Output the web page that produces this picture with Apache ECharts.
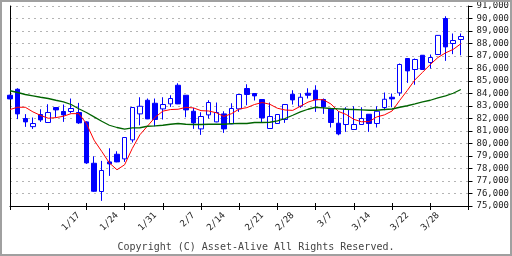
<!DOCTYPE html>
<html>
<head>
<meta charset="utf-8">
<script src="https://cdn.jsdelivr.net/npm/echarts@6/dist/echarts.min.js"></script>
<style>
  html, body { margin: 0; padding: 0; background: #fff; }
  #chart { width: 512px; height: 256px; }
</style>
</head>
<body>
<div id="chart"></div>
<script>
// Trading days (last slot is an empty spacer at the right edge)
const dates = ['12/30','1/4','1/5','1/6','1/7','1/11','1/12','1/13','1/14','1/17','1/18','1/19','1/20','1/21','1/24','1/25','1/26','1/27','1/28','1/31',
  '2/1','2/2','2/3','2/4','2/7','2/8','2/9','2/10','2/14','2/15','2/16','2/17','2/18','2/21','2/22','2/24','2/25','2/28',
  '3/1','3/2','3/3','3/4','3/7','3/8','3/9','3/10','3/11','3/14','3/15','3/16','3/17','3/18','3/22','3/23','3/24','3/25','3/28','3/29','3/30','3/31','4/1'];
const tickLabels = ['1/17','1/24','1/31','2/7','2/14','2/21','2/28','3/7','3/14','3/22','3/28'];

const openP  = [83860,84340,82000,81350,82320,81680,82880,82560,82560,82480,81730,78420,76160,78530,79140,78770,80290,82370,83460,83220,
  82770,83170,84660,83860,82580,81170,82290,81730,82370,81570,82770,84400,84000,83520,81200,81600,81920,83940,82980,84020,
  84260,83520,82800,81620,81520,81120,81520,82340,81600,82880,83700,84050,86800,85920,87060,86480,87120,90000,88000,88320];
const closeP = [83570,82370,81730,81600,81890,82480,82690,82290,82800,81650,78450,76180,77840,78370,78530,80480,82880,82980,81970,81920,
  83120,83600,83170,82690,81650,82160,83280,82480,81170,82800,83920,83920,83810,82050,82160,82320,83120,83490,83700,83860,
  83490,82930,81680,80770,82740,81520,82000,81600,82580,83540,83570,86320,85810,86720,85920,86880,88650,87730,88240,88560];
const lowP   = [83550,81950,81330,81170,81730,81650,82080,81730,82420,81570,78370,76130,75410,77410,78500,78530,80080,81460,81950,81380,
  81920,82930,83150,82100,81170,80690,82000,81700,80850,81550,82530,83060,83440,81680,81180,81580,81650,83120,82850,83600,
  82530,82370,81280,80660,80930,81100,81500,80930,81280,82660,82900,83810,84850,84700,85900,86000,87100,86610,87150,87060];
const highP  = [83900,84420,82350,82080,82740,83140,82900,83120,83600,83250,81780,78980,78610,79620,79380,80500,82900,83700,83600,83600,
  83700,83860,84820,83880,82850,82500,83460,83280,82580,83220,83950,84740,84020,83540,83280,82340,83130,84260,84020,84420,
  84660,83600,82810,82560,82900,82980,82900,82360,82980,84080,84000,86400,86820,86800,87080,87120,88670,90180,88800,88800];
const ma5  = [82720,82900,82900,82530,82250,82020,82070,82180,82390,82390,81600,80270,79370,78450,77900,78300,79600,80700,81400,82100,
  82590,82716,82740,82890,82850,82630,82600,82460,82160,82390,82760,82870,83120,83280,83140,82820,82680,82650,82980,83310,
  83510,83500,83160,82560,82320,81930,81740,81750,82130,82290,82600,83450,84250,85100,85700,86320,86880,87250,87530,87980];
const ma25 = [84220,84080,83920,83810,83700,83600,83460,83330,83120,82780,82480,82130,81780,81460,81280,81150,81250,81260,81380,81410,
  81460,81540,81600,81540,81520,81520,81540,81540,81540,81590,81600,81600,81680,81680,81700,81810,82000,82260,82530,82740,
  82900,82850,82800,82770,82740,82720,82690,82660,82660,82720,82760,82900,83020,83170,83330,83460,83650,83810,84020,84320];

const yMin = 75000, yMax = 91000, yStep = 1000;
const FONT = 'DejaVu Sans Mono';

const kData = openP.map((o, i) => [o, closeP[i], lowP[i], highP[i]]);

const chart = echarts.init(document.getElementById('chart'), null, { renderer: 'canvas' });
chart.setOption({
  animation: false,
  backgroundColor: '#fff',
  grid: { left: 10, width: 465, top: 6, height: 200, containLabel: false },
  xAxis: [{
    type: 'category', data: dates, boundaryGap: false, position: 'bottom',
    axisLine: { show: true, lineStyle: { color: '#000', width: 1 } },
    axisTick: { show: true, inside: false, length: 4, lineStyle: { color: '#000' },
      interval: function (idx) { return idx % 5 === 0; } },
    axisLabel: { show: true, rotate: 45, margin: 8, fontFamily: FONT, fontSize: 9, color: '#222',
      interval: function (idx, val) { return tickLabels.indexOf(val) >= 0; } },
    splitLine: { show: false }
  }, {
    type: 'category', data: dates, boundaryGap: false, position: 'bottom',
    axisLine: { show: false },
    axisTick: { show: true, inside: true, length: 3, lineStyle: { color: '#000' },
      interval: function (idx) { return idx % 5 === 0; } },
    axisLabel: { show: false }, splitLine: { show: false }
  }],
  yAxis: [{
    type: 'value', position: 'right', min: yMin, max: yMax, interval: yStep, scale: true,
    axisLine: { show: true, lineStyle: { color: '#000', width: 1 } },
    axisTick: { show: true, inside: false, length: 4, lineStyle: { color: '#000' } },
    axisLabel: { show: true, margin: 8, fontFamily: FONT, fontSize: 9, color: '#222' },
    splitLine: { show: true, lineStyle: { color: '#b4b4b4', type: [2, 4], width: 1 } }
  }, {
    type: 'value', position: 'left', min: yMin, max: yMax, interval: yStep,
    axisLine: { show: true, lineStyle: { color: '#000', width: 1 } },
    axisTick: { show: false }, axisLabel: { show: false }, splitLine: { show: false }
  }],
  series: [{
    type: 'candlestick', data: kData, barWidth: 5, xAxisIndex: 0, yAxisIndex: 0,
    itemStyle: { color: '#ffffff', color0: '#0000ff', borderColor: '#0000ff', borderColor0: '#0000ff', borderWidth: 1 },
    emphasis: { disabled: true }
  }, {
    type: 'line', data: ma5, showSymbol: false, smooth: false, xAxisIndex: 0, yAxisIndex: 0,
    lineStyle: { color: '#ff0000', width: 1 }, z: 3
  }, {
    type: 'line', data: ma25, showSymbol: false, smooth: false, xAxisIndex: 0, yAxisIndex: 0,
    lineStyle: { color: '#006400', width: 1.3 }, z: 3
  }],
  graphic: [{
    type: 'text', x: 256, y: 247,
    style: { text: 'Copyright (C) Asset-Alive All Rights Reserved.', font: '10px "DejaVu Sans Mono"',
      fill: '#444', textAlign: 'center', textVerticalAlign: 'middle' }
  }, {
    type: 'rect', shape: { x: 1, y: 1, width: 510, height: 254 },
    style: { fill: 'none', stroke: '#a0a0a0', lineWidth: 2 }, silent: true, z: 100
  }]
});
</script>
</body>
</html>
